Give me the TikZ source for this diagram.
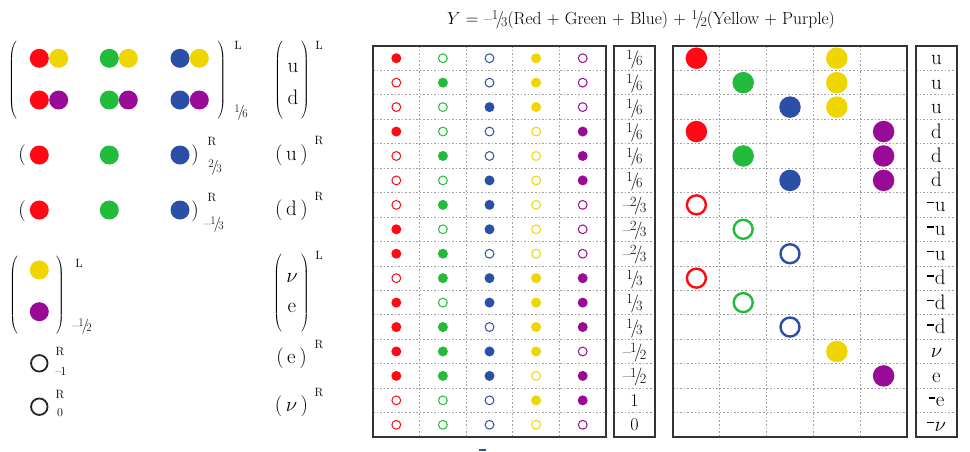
\documentclass[tikz,border=0pt]{standalone}
\usepackage{fontspec}
\usepackage{graphicx}
\definecolor{c1}{HTML}{FF0A14}
\definecolor{c2}{HTML}{22BB3C}
\definecolor{c3}{HTML}{2B4EA6}
\definecolor{c4}{HTML}{F0D600}
\definecolor{c5}{HTML}{990A96}
\newcommand\vf[2]{\raisebox{.62ex}{\scalebox{.78}{#1}}\kern-.13em/\kern-.15em\raisebox{-.2ex}{\scalebox{.78}{#2}}}
\newcommand\mn{\textendash\kern-.05em}
\newcommand\anti[1]{\raisebox{.38em}{\rule{.32em}{.07em}}\kern.03em#1}
\begin{document}
\begin{tikzpicture}[x=1pt,y=-1pt,
  every node/.style={inner sep=0pt,outer sep=0pt},
  bigtxt/.style={font=\fontsize{21}{24}\selectfont},
  scr/.style={font=\fontsize{12}{13}\selectfont},
  subfr/.style={font=\fontsize{15}{16}\selectfont},
  valtxt/.style={font=\fontsize{18}{18}\selectfont},
  labtxt/.style={font=\fontsize{21}{22}\selectfont},
  ldot/.style={circle,minimum size=19pt,fill=#1},
  lring/.style={circle,minimum size=16.5pt,draw=black!85,line width=1.8pt},
  mid1/.style={circle,minimum size=10pt,fill=#1},
  mid0/.style={circle,minimum size=8.8pt,draw=#1,line width=1pt},
  big1/.style={circle,minimum size=21.5pt,fill=#1},
  big0/.style={circle,minimum size=19pt,draw=#1,line width=2.4pt},
  frame/.style={draw=black!80,line width=1.3pt},
  gridln/.style={draw=gray!75,line width=0.8pt,dash pattern=on 1.6pt off 2pt},
]
\useasboundingbox[fill=white] (0,0) rectangle (970,451);

% ---------- title ----------
\node[font=\fontsize{17.5}{20}\selectfont] (title) at (641,20)
  {$Y$ = \textendash\vf13(Red + Green + Blue) + \vf12(Yellow + Purple)};

% ---------- left: quark doublet ----------
\foreach \x/\c/\n in {39.3/c1/a,58.7/c4/b,109.3/c2/c,128.3/c4/d,180/c3/e,199.3/c4/f}
  \node[ldot=\c] (qa\n) at (\x,58.3) {};
\foreach \x/\c/\n in {39.3/c1/a,58.7/c5/b,109.3/c2/c,128.3/c5/d,180/c3/e,199.3/c5/f}
  \node[ldot=\c] (qb\n) at (\x,100) {};
\node[bigtxt] (qlp) at (13,81.5) {$\left(\rule[-36pt]{0pt}{73pt}\right.$};
\node[bigtxt] (qrp) at (221.5,81.5) {$\left.\rule[-36pt]{0pt}{73pt}\right)$};
\node[scr] (qL) at (238,45) {L};
\node[subfr] (qY) at (241,112) {\vf16};

\node[bigtxt] (ulp) at (279,81.5) {$\left(\rule[-36pt]{0pt}{73pt}\right.$};
\node[bigtxt] (urp) at (305,81.5) {$\left.\rule[-36pt]{0pt}{73pt}\right)$};
\node[bigtxt] (uu) at (293,68) {u};
\node[bigtxt] (ud) at (293,97.5) {d};
\node[scr] (uL) at (319,45) {L};

% ---------- left: right-handed up ----------
\node[bigtxt] (ra) at (22,155) {(};
\node[ldot=c1] (rr) at (39.3,155) {};
\node[ldot=c2] (rg) at (109.3,155) {};
\node[ldot=c3] (rb) at (180,155) {};
\node[bigtxt] (rz) at (195,155) {)};
\node[scr] (rR) at (212,141.7) {R};
\node[subfr] (rY) at (215,167) {\vf23};
\node[bigtxt] (ru) at (291.5,155) {(\,u\,)};
\node[scr] (ruR) at (319,141) {R};

% ---------- left: right-handed down ----------
\node[bigtxt] (sa) at (22,211) {(};
\node[ldot=c1] (sr) at (39.3,210) {};
\node[ldot=c2] (sg) at (109.3,210) {};
\node[ldot=c3] (sb) at (180,210) {};
\node[bigtxt] (sz) at (195,211) {)};
\node[scr] (sR) at (212,197.5) {R};
\node[subfr] (sY) at (214,224) {\mn\vf13};
\node[bigtxt] (sd) at (291.5,210) {(\,d\,)};
\node[scr] (sdR) at (319,197) {R};

% ---------- left: lepton doublet ----------
\node[ldot=c4] (ly) at (39.3,270) {};
\node[ldot=c5] (lp) at (39.3,311.7) {};
\node[bigtxt] (llp) at (14,295) {$\left(\rule[-34pt]{0pt}{70pt}\right.$};
\node[bigtxt] (lrp) at (60,295) {$\left.\rule[-34pt]{0pt}{70pt}\right)$};
\node[scr] (lL) at (79,263) {L};
\node[subfr] (lY) at (82,326) {\mn\vf12};

\node[bigtxt] (nlp) at (278,293) {$\left(\rule[-34pt]{0pt}{70pt}\right.$};
\node[bigtxt] (nrp) at (305,293) {$\left.\rule[-34pt]{0pt}{70pt}\right)$};
\node[bigtxt] (nn) at (292,278) {$\nu$};
\node[bigtxt] (ne) at (292,308) {e};
\node[scr] (nL) at (319,255) {L};

% ---------- left: singlets ----------
\node[lring] (o1) at (39.3,363.3) {};
\node[scr] (o1R) at (60,351.7) {R};
\node[scr] (o1Y) at (61,371.7) {\mn 1};
\node[lring] (o2) at (39.3,406.7) {};
\node[scr] (o2R) at (60,395) {R};
\node[scr] (o2Y) at (60,413) {0};
\node[bigtxt] (ee) at (291.5,358) {(\,e\,)};
\node[scr] (eeR) at (319,345) {R};
\node[bigtxt] (nr) at (291.5,406.7) {(\,$\nu$\,)};
\node[scr] (nrR) at (319,393) {R};

% ---------- grids ----------
\foreach \k in {1,...,15}{
  \draw[gridln] (373,{46+\k*24.4375}) -- (606,{46+\k*24.4375});
  \draw[gridln] (614,{46+\k*24.4375}) -- (655,{46+\k*24.4375});
  \draw[gridln] (673,{46+\k*24.4375}) -- (907,{46+\k*24.4375});
  \draw[gridln] (916,{46+\k*24.4375}) -- (957,{46+\k*24.4375});
}
\foreach \k in {1,...,4}{
  \draw[gridln] ({373+\k*46.6},46) -- ({373+\k*46.6},437);
  \draw[gridln] ({673+\k*46.8},46) -- ({673+\k*46.8},437);
}
\draw[frame] (373,46) rectangle (606,437);
\draw[frame] (614,46) rectangle (655,437);
\draw[frame] (673,46) rectangle (907,437);
\draw[frame] (916,46) rectangle (957,437);

\foreach \r [count=\i] in {{1,0,0,1,0},{0,1,0,1,0},{0,0,1,1,0},{1,0,0,0,1},{0,1,0,0,1},{0,0,1,0,1},{0,1,1,0,0},{1,0,1,0,0},{1,1,0,0,0},{0,1,1,1,1},{1,0,1,1,1},{1,1,0,1,1},{1,1,1,1,0},{1,1,1,0,1},{0,0,0,1,1},{0,0,0,0,0}}
  \foreach \v [count=\j] in \r
    \node[mid\v=c\j] (m-\i-\j) at ({373+(\j-0.5)*46.6},{46+(\i-0.5)*24.4375}) {};

\foreach \t [count=\i] in {\vf16,\vf16,\vf16,\vf16,\vf16,\vf16,\mn\vf23,\mn\vf23,\mn\vf23,\vf13,\vf13,\vf13,\mn\vf12,\mn\vf12,1,0}
  \node[valtxt,anchor=base] (v\i) at (634.5,{46+(\i-0.5)*24.4375+6}) {\t};

\foreach \i/\j/\t in {1/1/1,1/4/1,2/2/1,2/4/1,3/3/1,3/4/1,4/1/1,4/5/1,5/2/1,5/5/1,6/3/1,6/5/1,7/1/0,8/2/0,9/3/0,10/1/0,11/2/0,12/3/0,13/4/1,14/5/1}
  \node[big\t=c\j] (r-\i-\j) at ({673+(\j-0.5)*46.8},{46+(\i-0.5)*24.4375}) {};

\foreach \t [count=\i] in {u,u,u,d,d,d,\anti u,\anti u,\anti u,\anti d,\anti d,\anti d,$\nu$,e,\anti e,\anti{$\nu$}}
  \node[labtxt,anchor=base] (p\i) at (936.5,{46+(\i-0.5)*24.4375+6.5}) {\t};

% small blue mark under the middle grid
\fill[c3] (479,448.5) rectangle (486,451);
\end{tikzpicture}
\end{document}
